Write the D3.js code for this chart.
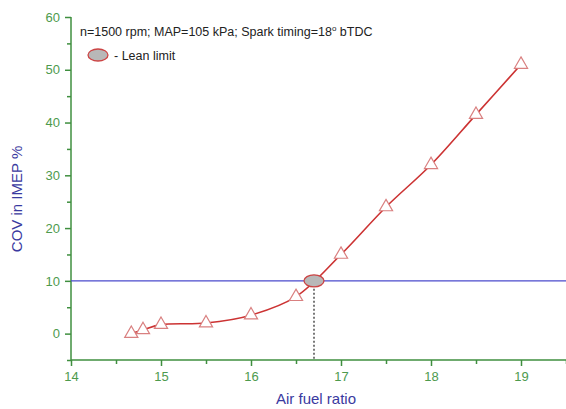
<!DOCTYPE html>
<html><head><meta charset="utf-8">
<script src="https://cdn.jsdelivr.net/npm/d3@7"></script>
<style>body{margin:0;background:#fff}svg{display:block}</style>
</head><body>
<svg id="c" width="566" height="409"></svg>
<script>
const afr = [14.67, 14.8, 15, 15.5, 16, 16.5, 17, 17.5, 18, 18.5, 19];
const cov = [0, 0.7, 1.7, 2, 3.5, 7, 15, 24, 32, 41.5, 51];
const leanLimit = [16.7, 10];
const xTicks = [14, 15, 16, 17, 18, 19];
const yTicks = [0, 10, 20, 30, 40, 50, 60];
const threshold = 10;

const svg = d3.select('#c');
const x = d3.scaleLinear().domain([14, 19.5]).range([71, 566]);
const y = d3.scaleLinear().domain([-5, 60]).range([360, 17]);
const axisCol = '#3f8f3f';
const font = 'Arial, "Liberation Sans", sans-serif';

// axes
const xa = svg.append('g').attr('transform', `translate(0,${y(-5)})`)
  .call(d3.axisBottom(x).tickValues(xTicks).tickFormat(d3.format('d')).tickSize(6).tickPadding(6));
const xm = svg.append('g').attr('transform', `translate(0,${y(-5)})`)
  .call(d3.axisBottom(x).tickValues(xTicks.map(d => d + 0.5)).tickFormat('').tickSize(4));
const ya = svg.append('g').attr('transform', `translate(${x(14)},0)`)
  .call(d3.axisLeft(y).tickValues(yTicks).tickFormat(d3.format('d')).tickSize(6).tickPadding(5));
const ym = svg.append('g').attr('transform', `translate(${x(14)},0)`)
  .call(d3.axisLeft(y).tickValues(yTicks.map(d => d - 5)).tickFormat('').tickSize(4));
[xa, xm, ya, ym].forEach(g => {
  g.select('.domain').attr('stroke', axisCol).attr('stroke-width', 1.5);
  g.selectAll('line').attr('stroke', axisCol).attr('stroke-width', 1.5);
  g.selectAll('text').attr('fill', '#4d9a4d').attr('font-size', 13).attr('font-family', font);
});
xa.select('.domain').attr('d', `M${x(14)},0H${x(19.5)}`);
ya.select('.domain').attr('d', `M0,${y(-5)}V${y(60)}`);
xm.select('.domain').remove(); ym.select('.domain').remove();

// threshold line
svg.append('line').attr('x1', x(14)).attr('x2', x(19.5))
  .attr('y1', y(threshold)).attr('y2', y(threshold))
  .attr('stroke', '#4a4acc').attr('stroke-width', 1.2);

// dotted drop line
svg.append('line').attr('x1', x(leanLimit[0])).attr('x2', x(leanLimit[0]))
  .attr('y1', y(leanLimit[1])).attr('y2', y(-5))
  .attr('stroke', '#333').attr('stroke-width', 1.3).attr('stroke-dasharray', '2,2');

// curve
const pts = afr.map((d, i) => [d, cov[i]]);
svg.append('path').datum(pts)
  .attr('d', d3.line().x(d => x(d[0])).y(d => y(d[1])).curve(d3.curveCatmullRom.alpha(0.5)))
  .attr('fill', 'none').attr('stroke', '#cc3333').attr('stroke-width', 1.6);

// triangles
const tri = d3.symbol().type(d3.symbolTriangle).size(75);
svg.selectAll('.m').data(pts).enter().append('path')
  .attr('transform', d => `translate(${x(d[0])},${y(d[1])})`)
  .attr('d', tri).attr('fill', '#fff').attr('stroke', '#d98080').attr('stroke-width', 1.2);

// lean limit ellipse
svg.append('ellipse').attr('cx', x(leanLimit[0])).attr('cy', y(leanLimit[1]))
  .attr('rx', 10).attr('ry', 6).attr('fill', '#b8b8b8').attr('stroke', '#cc4444').attr('stroke-width', 1.3);

// annotation
const t = svg.append('text').attr('x', 80).attr('y', 36).attr('font-size', 12.5)
  .attr('font-family', font).attr('fill', '#222');
t.append('tspan').text('n=1500 rpm; MAP=105 kPa; Spark timing=18');
t.append('tspan').attr('dy', -5).attr('font-size', 8).text('o');
t.append('tspan').attr('dy', 5).text(' bTDC');

svg.append('ellipse').attr('cx', 98).attr('cy', 55).attr('rx', 10).attr('ry', 6)
  .attr('fill', '#b8b8b8').attr('stroke', '#cc4444').attr('stroke-width', 1.3);
svg.append('text').attr('x', 114).attr('y', 60).attr('font-size', 12.5)
  .attr('font-family', font).attr('fill', '#222').text('- Lean limit');

// axis labels
svg.append('text').attr('x', 316).attr('y', 404).attr('text-anchor', 'middle')
  .attr('font-size', 15).attr('font-family', font).attr('fill', '#3a3aa0').text('Air fuel ratio');
svg.append('text').attr('transform', `translate(22,199) rotate(-90)`).attr('text-anchor', 'middle')
  .attr('font-size', 15).attr('font-family', font).attr('fill', '#3a3aa0').text('COV in IMEP %');
</script>
</body></html>
